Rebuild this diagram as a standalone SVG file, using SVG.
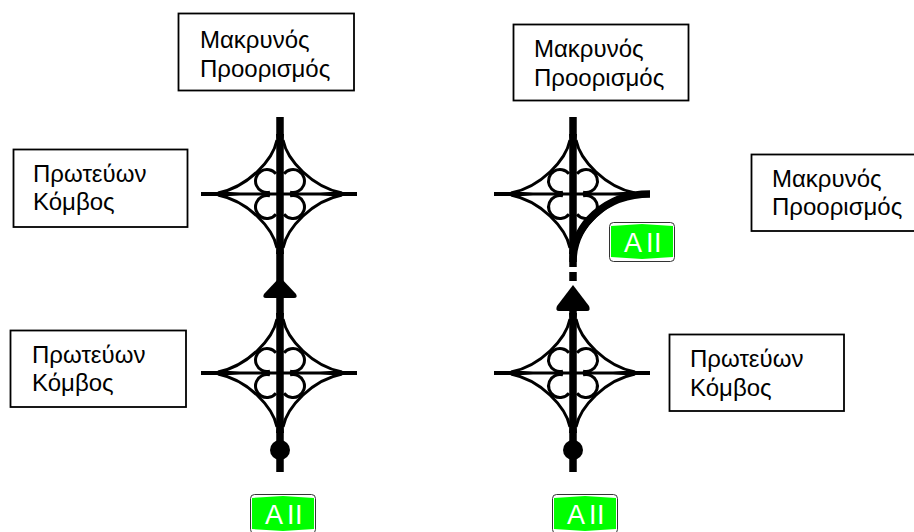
<svg xmlns="http://www.w3.org/2000/svg" width="914" height="532" viewBox="0 0 914 532">
<style>
.box{fill:#fff;stroke:#000;stroke-width:1.800}
.t{font-family:"Liberation Sans",Arial,sans-serif;font-size:24px;fill:#000}
.st{font-family:"Liberation Sans",Arial,sans-serif;font-size:27px;fill:#fff}
.thin{fill:none;stroke:#000;stroke-width:3}
.r{fill:none;stroke:#000;stroke-width:7.500}
</style>
<defs>
<g id="ix">
<path class="thin" d="M-79 0H77"/>
<path class="thin" d="M-3 -54C-7 -34 -32 -7 -62 -1M3 -54C7 -34 32 -7 62 -1M-3 54C-7 34 -32 7 -62 1M3 54C7 34 32 7 62 1"/>
<path class="thin" d="M-4 -20.200A11.500 11.500 0 1 0 -10 -1.900M4 -20.200A11.500 11.500 0 1 1 10 -1.900M-4 20.200A11.500 11.500 0 1 1 -10 1.900M4 20.200A11.500 11.500 0 1 0 10 1.900"/>
<path d="M-4 -60Q-3 -48 -1 -40H1Q3 -48 4 -60ZM-4 60Q-3 48 -1 40H1Q3 48 4 60Z"/>
<path d="M-79 -2H-50L-40 -1V1L-50 2H-79ZM77 -2H50L40 -1V1L50 2H77Z"/>
</g>
<g id="sign">
<rect x="0.500" y="0.500" width="65" height="39" rx="4" fill="#fff" stroke="#333" stroke-width="1"/>
<path d="M2 4L33 2L64 4V35L33 37L2 35Z" fill="#00ff00"/>
<text class="st" x="15 37 45" y="30">AII</text>
</g>
</defs>
<g id="connectors">
<path class="r" d="M280 117V472M573 117V267M573 272V281M573 305V472"/>
<path class="r" d="M573 262C573 225 605 194 650 194"/>
</g>
<g id="interchange-1"><use href="#ix" x="280" y="194"/></g>
<g id="interchange-2"><use href="#ix" x="280" y="373"/></g>
<g id="interchange-3"><use href="#ix" x="573" y="194"/></g>
<g id="interchange-4"><use href="#ix" x="573" y="373"/></g>
<g id="arrow-1"><path d="M280 277L296 294Q298 298 294 298H266Q262 298 264 294Z"/></g>
<g id="arrow-2"><path d="M573 285L589 306Q591 311 587 311H559Q555 311 557 306Z"/></g>
<g id="dot-1"><circle cx="280" cy="450" r="10"/></g>
<g id="dot-2"><circle cx="573" cy="450" r="10"/></g>
<g id="box-far-1"><rect class="box" x="178.500" y="13.500" width="175.500" height="77"/><text class="t" x="200" y="48">Μακρυνός</text><text class="t" x="200" y="77">Προορισμός</text></g>
<g id="box-far-2"><rect class="box" x="513.500" y="24.500" width="175" height="76"/><text class="t" x="534" y="57">Μακρυνός</text><text class="t" x="534" y="86">Προορισμός</text></g>
<g id="box-far-3"><rect class="box" x="751.500" y="154.500" width="170" height="76.500"/><text class="t" x="772" y="187">Μακρυνός</text><text class="t" x="772" y="215">Προορισμός</text></g>
<g id="box-sec-1"><rect class="box" x="13.500" y="149.500" width="174" height="77.500"/><text class="t" x="33" y="182">Πρωτεύων</text><text class="t" x="33" y="210">Κόμβος</text></g>
<g id="box-sec-2"><rect class="box" x="10.500" y="330.500" width="175.500" height="76.500"/><text class="t" x="32" y="363">Πρωτεύων</text><text class="t" x="32" y="391">Κόμβος</text></g>
<g id="box-sec-3"><rect class="box" x="669.500" y="334.500" width="174.500" height="76.500"/><text class="t" x="690" y="367">Πρωτεύων</text><text class="t" x="690" y="396">Κόμβος</text></g>
<g id="sign-1"><use href="#sign" x="609" y="222"/></g>
<g id="sign-2"><use href="#sign" x="250" y="494"/></g>
<g id="sign-3"><use href="#sign" x="552" y="494"/></g>
</svg>
